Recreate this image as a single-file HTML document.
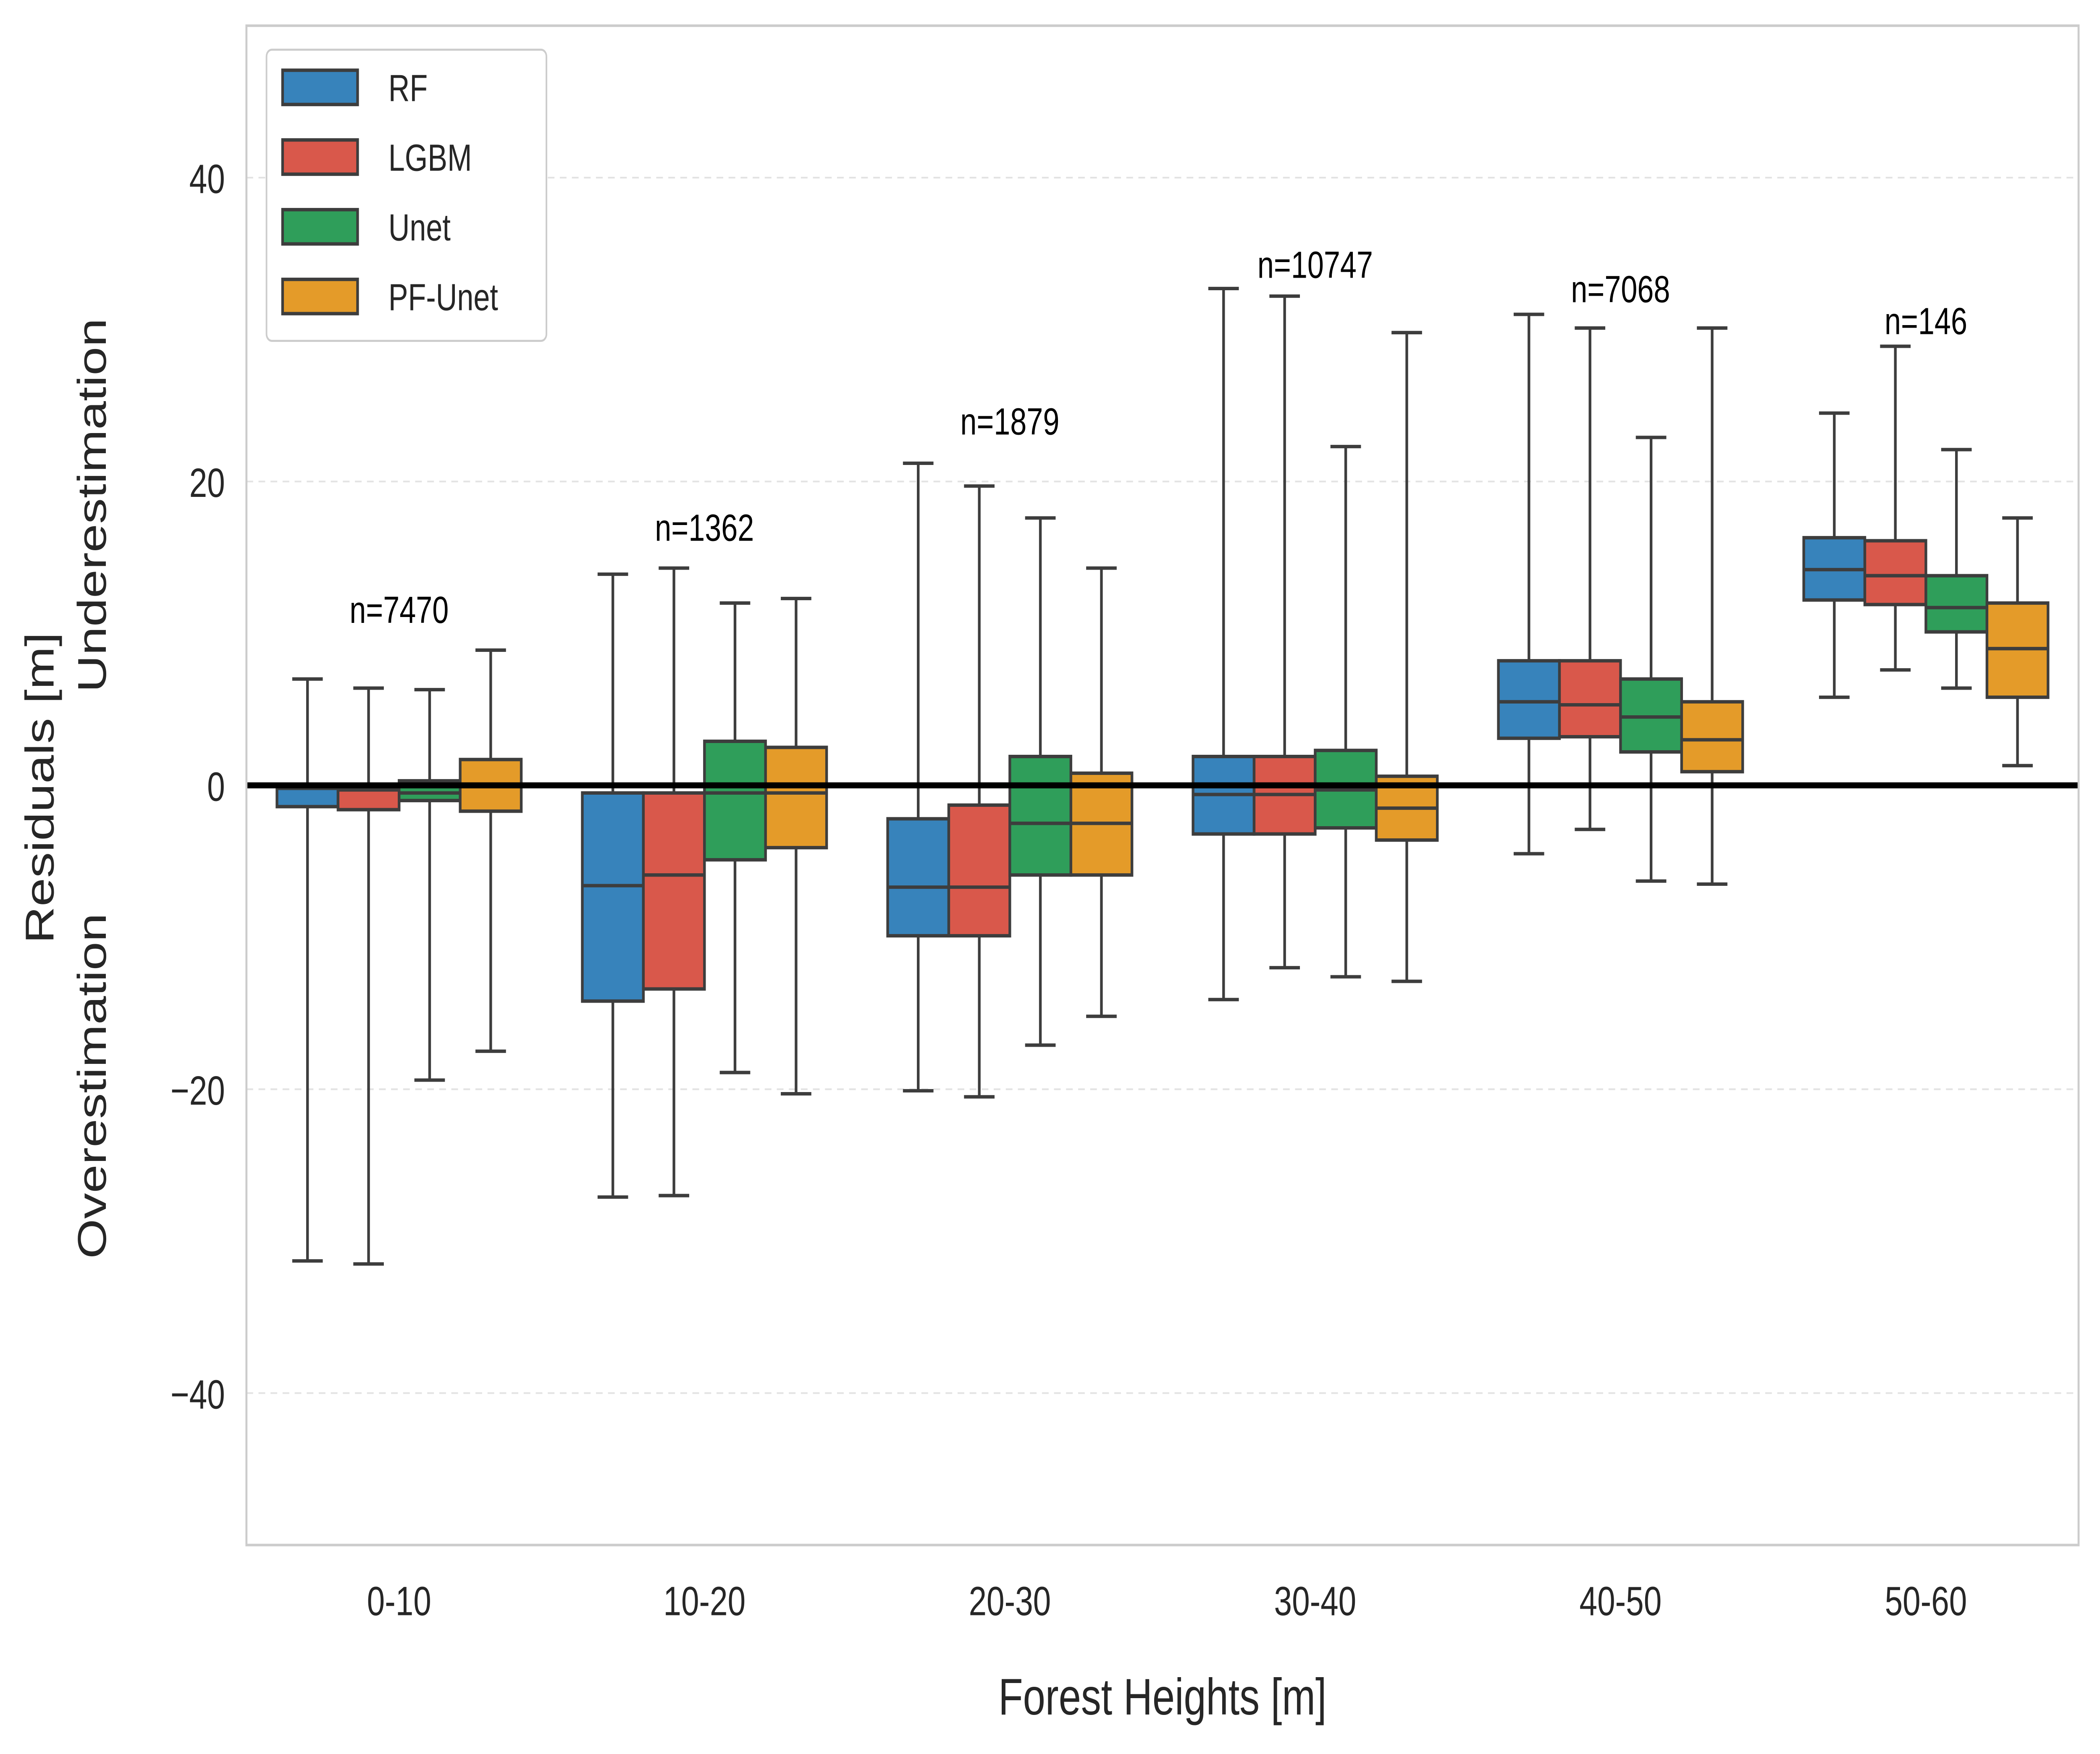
<!DOCTYPE html>
<html><head><meta charset="utf-8">
<style>
html,body{margin:0;padding:0;background:#fff;overflow:hidden;width:100%;height:100%;}
svg{display:block;width:100vw;height:100vh;font-family:"Liberation Sans","DejaVu Sans",sans-serif;}
</style></head>
<body>
<svg id="chart" viewBox="0 0 1568 1024" preserveAspectRatio="none" xmlns="http://www.w3.org/2000/svg">
<rect x="0" y="0" width="1568" height="1024" fill="#fff"/>
<g id="grid"></g>
<g id="boxes"></g>
<g id="nlabels"></g>
<g id="axes"></g>
<g id="legend"></g>
</svg>
<script>
const categories = ["0-10","10-20","20-30","30-40","40-50","50-60"];
const models = ["RF","LGBM","Unet","PF-Unet"];
const modelColors = ["#3783bb","#d9584b","#2f9e5a","#e49b29"];
const whiskerLow = [
  [-31.3,-27.1,-20.1,-14.1,-4.5,5.8],
  [-31.5,-27.0,-20.5,-12.0,-2.9,7.6],
  [-19.4,-18.9,-17.1,-12.6,-6.3,6.4],
  [-17.5,-20.3,-15.2,-12.9,-6.5,1.3]
];
const q1 = [
  [-1.4,-14.2,-9.9,-3.2,3.1,12.2],
  [-1.6,-13.4,-9.9,-3.2,3.2,11.9],
  [-1.0,-4.9,-5.9,-2.8,2.2,10.1],
  [-1.7,-4.1,-5.9,-3.6,0.9,5.8]
];
const medians = [
  [-0.2,-6.6,-6.7,-0.6,5.5,14.2],
  [-0.3,-5.9,-6.7,-0.6,5.3,13.8],
  [-0.5,-0.5,-2.5,-0.3,4.5,11.7],
  [0.0,-0.5,-2.5,-1.5,3.0,9.0]
];
const q3 = [
  [0.0,-0.5,-2.2,1.9,8.2,16.3],
  [0.0,-0.5,-1.3,1.9,8.2,16.1],
  [0.3,2.9,1.9,2.3,7.0,13.8],
  [1.7,2.5,0.8,0.6,5.5,12.0]
];
const whiskerHigh = [
  [7.0,13.9,21.2,32.7,31.0,24.5],
  [6.4,14.3,19.7,32.2,30.1,28.9],
  [6.3,12.0,17.6,22.3,22.9,22.1],
  [8.9,12.3,14.3,29.8,30.1,17.6]
];
const nCounts = ["n=7470","n=1362","n=1879","n=10747","n=7068","n=146"];
const nLabelValue = [11.6,17.0,24.0,34.3,32.7,30.6];
const yTicks = [-40,-20,0,20,40];

const NS="http://www.w3.org/2000/svg";
const L=184,R=1552,T=15,B=902, yMin=-50,yMax=50;
function yS(v){return B-(v-yMin)/(yMax-yMin)*(B-T);}
const band=(R-L)/categories.length;
function xC(i){return L+band*(i+0.5);}
const boxW=band*0.8/models.length;
function xM(i,m){return xC(i)-band*0.4+boxW*(m+0.5);}
function el(tag,attrs,parent,txt){const e=document.createElementNS(NS,tag);for(const k in attrs)e.setAttribute(k,attrs[k]);if(txt!==undefined)e.textContent=txt;parent.appendChild(e);return e;}

const grid=document.getElementById('grid');
yTicks.forEach(t=>{ if(t!==0){const g=el('line',{x1:L,x2:R,y1:yS(t),y2:yS(t),stroke:"#e3e3e3","stroke-width":1,"stroke-dasharray":"5,4"},grid);

}});

const boxes=document.getElementById('boxes');
const ec="#3d3d3d";
categories.forEach((c,i)=>{
  models.forEach((m,k)=>{
    const g=el('g',{},boxes);
    
    
    const x=xM(i,k), hw=boxW/2, cap=boxW*0.25;
    el('line',{x1:x,x2:x,y1:yS(whiskerHigh[k][i]),y2:yS(q3[k][i]),stroke:ec,"stroke-width":2},g);
    el('line',{x1:x,x2:x,y1:yS(q1[k][i]),y2:yS(whiskerLow[k][i]),stroke:ec,"stroke-width":2},g);
    el('line',{x1:x-cap,x2:x+cap,y1:yS(whiskerHigh[k][i]),y2:yS(whiskerHigh[k][i]),stroke:ec,"stroke-width":2},g);
    el('line',{x1:x-cap,x2:x+cap,y1:yS(whiskerLow[k][i]),y2:yS(whiskerLow[k][i]),stroke:ec,"stroke-width":2},g);
    const y1=yS(q3[k][i]),y2=yS(q1[k][i]);
    el('rect',{x:x-hw,y:y1,width:boxW,height:Math.max(y2-y1,0.5),fill:modelColors[k],stroke:ec,"stroke-width":2},g);
    el('line',{x1:x-hw,x2:x+hw,y1:yS(medians[k][i]),y2:yS(medians[k][i]),stroke:ec,"stroke-width":2},g);
  });
});
const z=el('line',{x1:L,x2:R,y1:yS(0),y2:yS(0),stroke:"#000","stroke-width":3.5},boxes);



const nl=document.getElementById('nlabels');
nCounts.forEach((n,i)=>{const t=el('text',{x:xC(i),y:yS(nLabelValue[i])+8,"text-anchor":"middle","font-size":22,fill:"#000"},nl,n);

});

const ax=document.getElementById('axes');
const fr=el('rect',{x:L,y:T,width:R-L,height:B-T,fill:"none",stroke:"#cccccc","stroke-width":1.5},ax);


yTicks.forEach(t=>{const tx=el('text',{x:168,y:yS(t)+9,"text-anchor":"end","font-size":24,fill:"#262626"},ax,t<0?"\u2212"+(-t):String(t));

});
categories.forEach((c,i)=>{const tx=el('text',{x:xC(i),y:943,"text-anchor":"middle","font-size":24,fill:"#262626"},ax,c);

});
const xt=el('text',{x:868,y:1001,"text-anchor":"middle","font-size":30,fill:"#262626"},ax,"Forest Heights [m]");


const yt=el('text',{transform:"translate(40,460) rotate(-90)","text-anchor":"middle","font-size":30,fill:"#262626"},ax,"Residuals [m]");


const ut=el('text',{transform:"translate(79,295) rotate(-90)","text-anchor":"middle","font-size":30,fill:"#262626"},ax,"Underestimation");


const ot=el('text',{transform:"translate(79,634) rotate(-90)","text-anchor":"middle","font-size":30,fill:"#262626"},ax,"Overestimation");



const lg=document.getElementById('legend');
const lb=el('rect',{x:199,y:29,width:209,height:170,rx:4,fill:"#fff",stroke:"#cccccc","stroke-width":1.2},lg);


models.forEach((m,k)=>{
  const g=el('g',{},lg);
  
  
  const y=41+k*40.7;
  el('rect',{x:211,y:y,width:56,height:20,fill:modelColors[k],stroke:ec,"stroke-width":2},g);
  el('text',{x:290,y:y+18,"font-size":22,fill:"#262626"},g,m);
});
</script>
</body></html>
